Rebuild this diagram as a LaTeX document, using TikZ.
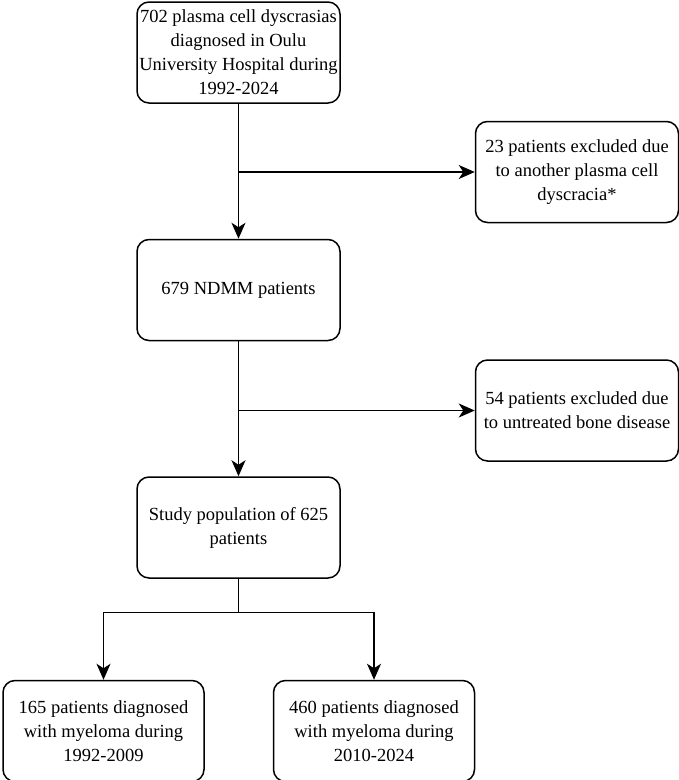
\documentclass[tikz,border=0pt]{standalone}
\usepackage{fontspec}
\setmainfont{Liberation Serif}
\usetikzlibrary{arrows.meta, positioning}

\begin{document}
\begin{tikzpicture}[
    >={Stealth[length=16pt, width=14pt, inset=4.5pt]},
    box/.style={draw, rounded corners=12pt, minimum width=203pt, minimum height=101pt, align=center, inner sep=2pt, line width=1.5pt, font=\fontsize{18.5pt}{24pt}\selectfont},
    link/.style={line width=1.3pt},
]
    \useasboundingbox (0,0) rectangle (679pt,-780pt);
    \node[box] (all) at (238.5pt,-52.5pt) {702 plasma cell dyscrasias\\diagnosed in Oulu\\University Hospital during\\1992-2024};
    \node[box, below=135pt of all] (ndmm) {679 NDMM patients};
    \node[box, below=135pt of ndmm] (study) {Study population of 625\\patients};
    \node[box, below right=17pt and 134pt of all] (other) {23 patients excluded due\\to another plasma cell\\dyscracia*};
    \node[box, below right=18pt and 134pt of ndmm] (bone) {54 patients excluded due\\to untreated bone disease};
    \node[box, minimum width=201pt, below=101pt of study, xshift=-135pt] (early) {165 patients diagnosed\\with myeloma during\\1992-2009};
    \node[box, minimum width=201pt, below=101pt of study, xshift=135.5pt] (late) {460 patients diagnosed\\with myeloma during\\2010-2024};
    \coordinate[below=34pt of study] (split);
    \draw[link, ->] (all) -- (ndmm);
    \draw[link, ->] (all |- other) -- (other);
    \draw[link, ->] (ndmm) -- (study);
    \draw[link, ->] (ndmm |- bone) -- (bone);
    \draw[link] (study) -- (split);
    \draw[link, ->] (split) -| (early);
    \draw[link, ->] (split) -| (late);
\end{tikzpicture}
\end{document}
